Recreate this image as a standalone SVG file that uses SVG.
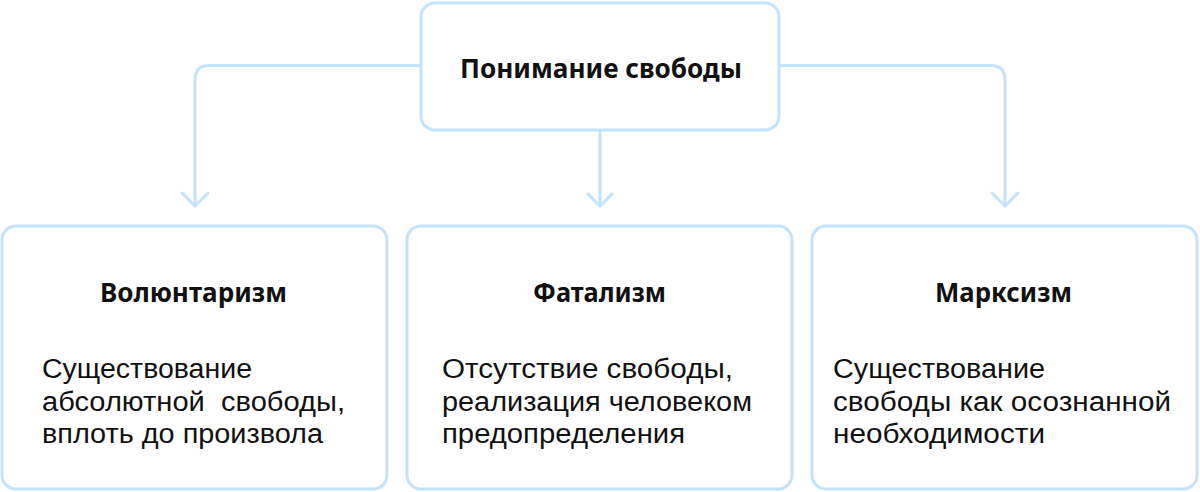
<svg xmlns="http://www.w3.org/2000/svg" width="1200" height="492" viewBox="0 0 1200 492">
<style>
.box{fill:#ffffff;stroke:#c3e2fc;stroke-width:3}
.con{fill:none;stroke:#c3e2fc;stroke-width:3;stroke-linecap:round;stroke-linejoin:round}
.title{font-family:"Noto Sans","Open Sans",sans-serif;font-weight:bold;font-size:27px;fill:#111111;text-anchor:middle}
.body{font-family:"Liberation Sans",Arial,sans-serif;font-size:27px;fill:#111111}
</style>
<rect width="1200" height="492" fill="#ffffff"/>
<g id="connectors">
<path class="con" d="M421,65.5 H209 Q195,65.5 195,79.5 V206"/>
<path class="con" d="M182,193 L195,206 L208,193"/>
<path class="con" d="M600,130 V206"/>
<path class="con" d="M588,194 L600,206 L612,194"/>
<path class="con" d="M779,65.5 H991 Q1005,65.5 1005,79.5 V206"/>
<path class="con" d="M992,193 L1005,206 L1018,193"/>
</g>
<g id="node-top">
<rect class="box" x="421" y="3" width="358" height="127" rx="14"/>
<text class="title" x="601" y="78" font-size="28" textLength="282" lengthAdjust="spacingAndGlyphs">Понимание свободы</text>
</g>
<g id="node-voluntarism">
<rect class="box" x="2" y="226" width="385" height="263" rx="14"/>
<text class="title" x="193.5" y="302" textLength="187" lengthAdjust="spacingAndGlyphs">Волюнтаризм</text>
<text class="body" x="42" y="378" textLength="210" lengthAdjust="spacingAndGlyphs">Существование</text>
<text class="body" x="42" y="410.5" textLength="303" lengthAdjust="spacingAndGlyphs" xml:space="preserve">абсолютной  свободы,</text>
<text class="body" x="42" y="443" textLength="281" lengthAdjust="spacingAndGlyphs">вплоть до произвола</text>
</g>
<g id="node-fatalism">
<rect class="box" x="407" y="226" width="385" height="263" rx="14"/>
<text class="title" x="599.5" y="302" textLength="133" lengthAdjust="spacingAndGlyphs">Фатализм</text>
<text class="body" x="442" y="378" textLength="291" lengthAdjust="spacingAndGlyphs">Отсутствие свободы,</text>
<text class="body" x="442" y="410.5" textLength="310" lengthAdjust="spacingAndGlyphs">реализация человеком</text>
<text class="body" x="442" y="443" textLength="243" lengthAdjust="spacingAndGlyphs">предопределения</text>
</g>
<g id="node-marxism">
<rect class="box" x="812" y="226" width="385" height="263" rx="14"/>
<text class="title" x="1003.5" y="302" textLength="137" lengthAdjust="spacingAndGlyphs">Марксизм</text>
<text class="body" x="833" y="378" textLength="212" lengthAdjust="spacingAndGlyphs">Существование</text>
<text class="body" x="833" y="410.5" textLength="338" lengthAdjust="spacingAndGlyphs">свободы как осознанной</text>
<text class="body" x="833" y="443" textLength="212" lengthAdjust="spacingAndGlyphs">необходимости</text>
</g>
</svg>
